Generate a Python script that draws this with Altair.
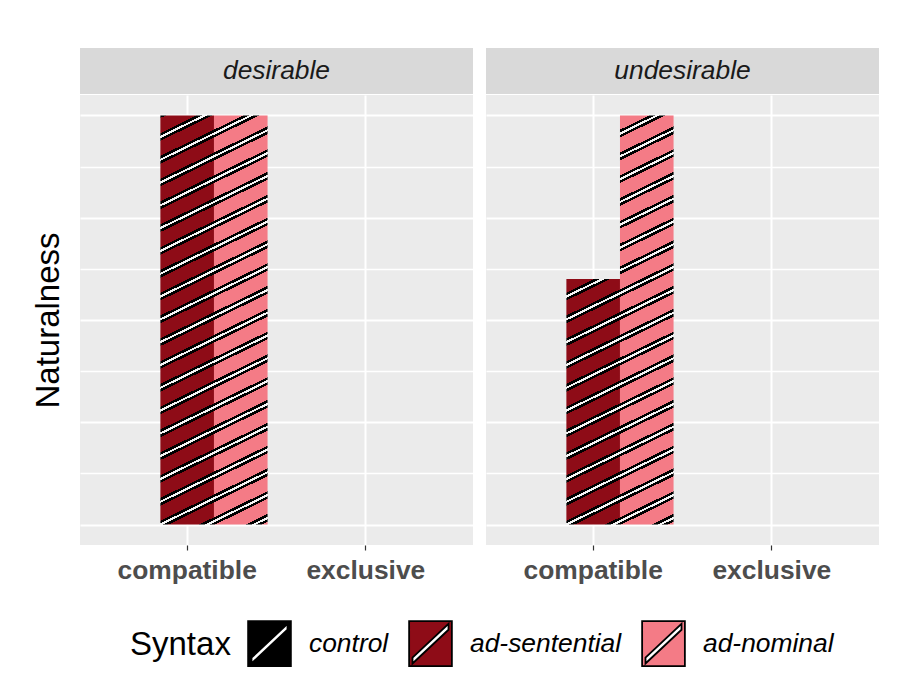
import math
import altair as alt
import pandas as pd

# ---------------- data ----------------
facets = ["desirable", "undesirable"]
categories = ["compatible", "exclusive"]
series = ["control", "ad-sentential", "ad-nominal"]
series_colors = ["#000000", "#8e0c17", "#f47b86"]

desirable_control = [0.0, 0.0]
desirable_ad_sentential = [1.0, 0.0]
desirable_ad_nominal = [1.0, 0.0]
undesirable_control = [0.0, 0.0]
undesirable_ad_sentential = [0.6, 0.0]
undesirable_ad_nominal = [1.0, 0.0]

y_grid_values = [0, 0.125, 0.25, 0.375, 0.5, 0.625, 0.75, 0.875, 1.0]

values_by_facet = {
    "desirable": [desirable_control, desirable_ad_sentential, desirable_ad_nominal],
    "undesirable": [undesirable_control, undesirable_ad_sentential, undesirable_ad_nominal],
}
rows = []
for f in facets:
    for s, vals in zip(series, values_by_facet[f]):
        for c, v in zip(categories, vals):
            rows.append({"facet": f, "series": s, "category": c, "value": v})
df = pd.DataFrame(rows)

# ---------------- style / layout ----------------
FONT = "Liberation Sans"
PANEL_W, PANEL_H, STRIP_H = 393, 450, 46
Y_DOMAIN = [-0.05, 1.05]
PAD_INNER, PAD_OUTER = 0.1, 0.15
THETA = math.radians(26)
PERIOD = 22.8 * math.cos(THETA)
HB, HW = 3.5, 1.05  # half widths of black outline and white core

step = PANEL_W / (len(categories) - PAD_INNER + 2 * PAD_OUTER)
sub_w = step * (1 - PAD_INNER) / len(series)
ppu = PANEL_H / (Y_DOMAIN[1] - Y_DOMAIN[0])

# stripe phase: a stripe runs through the bottom-left corner of the first drawn bar
_x_bl = PAD_OUTER * step + sub_w
_y_bl = Y_DOMAIN[1] * ppu
PHASE = (_x_bl * math.sin(THETA) + _y_bl * math.cos(THETA)) % PERIOD


def stripe_gradient(base, x0, y0, w, h):
    s, c = math.sin(THETA), math.cos(THETA)
    L = w * s + h * c
    p0 = x0 * s + y0 * c
    edges = {0.0, L}
    k0 = math.floor((p0 - HB) / PERIOD) - 2
    k1 = math.ceil((p0 + L + HB) / PERIOD) + 2
    for k in range(k0, k1 + 1):
        ctr = k * PERIOD + PHASE
        for e in (ctr - HB, ctr - HW, ctr + HW, ctr + HB):
            q = e - p0
            if 0 < q < L:
                edges.add(q)
    edges = sorted(edges)

    def col(P):
        r = (P - PHASE) % PERIOD
        dist = min(r, PERIOD - r)
        if dist < HW:
            return "#f4f4f4"
        if dist < HB:
            return "#000000"
        return base

    stops = []
    for e1, e2 in zip(edges[:-1], edges[1:]):
        if e2 - e1 < 1e-9:
            continue
        cc = col((e1 + e2) / 2 + p0)
        stops.append(alt.GradientStop(offset=round(e1 / L, 6), color=cc))
        stops.append(alt.GradientStop(offset=round(e2 / L, 6), color=cc))
    a = w * s / L
    b = h * c / L
    n = a * a + b * b
    return alt.Gradient(gradient="linear", stops=stops, x1=0, y1=0, x2=a / n, y2=b / n)


LEGEND_PATH = ("M-0.95,-1L0.95,-1L0.95,1L-0.95,1Z"
               "M-0.8,0.88L0.8,-0.62L0.8,-0.88L-0.8,0.62Z")


def x_enc():
    return alt.X("category:N", sort=categories,
                 scale=alt.Scale(domain=categories, paddingInner=PAD_INNER, paddingOuter=PAD_OUTER),
                 axis=alt.Axis(title="", bandPosition=0.5, domain=False,
                               labelFont=FONT, labelFontSize=26.4, labelFontWeight="bold",
                               labelColor="#4d4d4d", labelPadding=7, labelAngle=0,
                               tickColor="#333333", tickSize=5, tickWidth=1.2,
                               grid=True, gridColor="white", gridWidth=2))


def y_enc(show_title):
    return alt.Y("value:Q",
                 scale=alt.Scale(domain=Y_DOMAIN, nice=False, zero=False),
                 axis=alt.Axis(title="Naturalness" if show_title else "",
                               values=y_grid_values, labels=False, ticks=False, domain=False,
                               grid=True, gridColor="white",
                               gridWidth={"condition": {"test": "datum.value % 0.25 === 0", "value": 2},
                                          "value": 1.3},
                               titleFont=FONT, titleFontSize=33, titleFontWeight="normal",
                               titleColor="black", titlePadding=15))


def xo_enc():
    return alt.XOffset("series:N", sort=series,
                       scale=alt.Scale(domain=series, paddingInner=0, paddingOuter=0))


def panel(facet, first):
    d = df[df["facet"] == facet]
    base = alt.Chart(d).mark_bar(opacity=0).encode(
        x=x_enc(), xOffset=xo_enc(), y=y_enc(first))
    layers = [base]
    for _, r in d.iterrows():
        if r["value"] <= 0:
            continue
        si = series.index(r["series"])
        ci = categories.index(r["category"])
        x0 = PAD_OUTER * step + ci * step + si * sub_w
        y0 = (Y_DOMAIN[1] - r["value"]) * ppu
        grad = stripe_gradient(series_colors[si], x0, y0, sub_w, r["value"] * ppu)
        lay = alt.Chart(d).transform_filter(
            (alt.datum.series == r["series"]) & (alt.datum.category == r["category"])
        ).mark_bar(color=grad, stroke="transparent").encode(
            x=x_enc(), xOffset=xo_enc(), y=alt.Y("value:Q", scale=alt.Scale(domain=Y_DOMAIN, nice=False, zero=False)))
        layers.append(lay)
    if first:
        leg = alt.Chart(pd.DataFrame({"series": series})).transform_filter("false").mark_square(
            filled=True).encode(
            color=alt.Color("series:N", sort=series,
                            scale=alt.Scale(domain=series, range=series_colors),
                            legend=alt.Legend(
                                title="Syntax", orient="none", legendX=50, legendY=572,
                                direction="horizontal", titleOrient="left",
                                titleAnchor="middle", titleBaseline="middle",
                                titleFont=FONT, titleFontSize=33, titleFontWeight="normal",
                                titleColor="black", titlePadding=15,
                                labelFont=FONT, labelFontSize=26.4, labelFontStyle="italic",
                                labelColor="black", labelLimit=400, labelOffset=16,
                                columnPadding=16,
                                symbolType=LEGEND_PATH, symbolSize=2025,
                                symbolStrokeColor="black", symbolStrokeWidth=1.8,
                                symbolOpacity=1)))
        layers.append(leg)
    return alt.layer(*layers).properties(
        width=PANEL_W, height=PANEL_H,
        view=alt.ViewBackground(fill="#ebebeb", strokeWidth=0))


def strip(facet):
    return alt.Chart(pd.DataFrame({"facet": facets})).transform_filter(
        alt.datum.facet == facet
    ).mark_text(font=FONT, fontSize=26.4, fontStyle="italic", color="#1a1a1a",
                align="center", baseline="middle").encode(
        text="facet:N"
    ).properties(width=PANEL_W, height=STRIP_H,
                 view=alt.ViewBackground(fill="#d9d9d9", strokeWidth=0))


cols = [alt.vconcat(strip(f), panel(f, i == 0), spacing=1) for i, f in enumerate(facets)]
chart = alt.hconcat(*cols, spacing=13).properties(
    padding={"left": 32, "top": 48, "right": 29, "bottom": 10},
    background="white",
).configure_view(strokeWidth=0)

chart.save("out.html", embed_options={"renderer": "svg", "actions": False})
